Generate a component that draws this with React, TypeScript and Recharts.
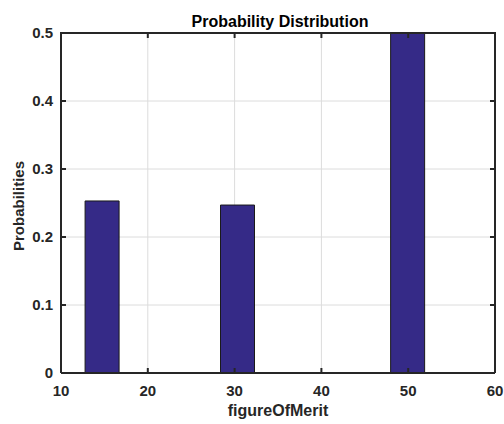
import React from "react";
import { BarChart, Bar, XAxis, YAxis, CartesianGrid } from "recharts";

const figureOfMerit = [14.7, 30.3, 49.9];
const probabilities = [0.253, 0.247, 0.5];
const xTicks = [10, 20, 30, 40, 50, 60];
const yTicks = [0, 0.1, 0.2, 0.3, 0.4, 0.5];
const xDomain = [10, 60];
const yDomain = [0, 0.5];
const titleText = "Probability Distribution";
const xLabel = "figureOfMerit";
const yLabel = "Probabilities";

const data = figureOfMerit.map((x, i) => ({ x, p: probabilities[i] }));

const FONT = "'Liberation Sans', Arial, Helvetica, sans-serif";
const AX = "#262626";
const AXW = 2;

const CW = 504;
const CH = 424;
const M_TOP = 33;
const M_RIGHT = 9;
const Y_W = 61;
const X_H = 51;
const PL = Y_W;
const PT = M_TOP;
const PR = CW - M_RIGHT;
const PB = CH - X_H;

const sx = (v: number) => PL + ((v - xDomain[0]) / (xDomain[1] - xDomain[0])) * (PR - PL);
const sy = (v: number) => PB - ((v - yDomain[0]) / (yDomain[1] - yDomain[0])) * (PB - PT);

export default function App() {
  return (
    <div style={{ position: "absolute", left: 0, top: 0, width: CW, height: CH, background: "#fff" }}>
      <BarChart
        width={CW}
        height={CH}
        data={data}
        margin={{ top: M_TOP, right: M_RIGHT, left: 0, bottom: 0 }}
      >
        <CartesianGrid stroke="#dcdcdc" strokeWidth={1} vertical horizontal />
        <XAxis
          dataKey="x"
          type="number"
          domain={xDomain}
          ticks={xTicks}
          allowDataOverflow
          height={X_H}
          axisLine={{ stroke: AX, strokeWidth: AXW }}
          tickLine={{ stroke: AX, strokeWidth: AXW }}
          tickSize={-5}
          tickMargin={17}
          tick={{ fill: "#262626", fontSize: 15, fontWeight: "bold", fontFamily: FONT }}
        />
        <YAxis
          type="number"
          domain={yDomain}
          ticks={yTicks}
          allowDataOverflow
          width={Y_W}
          axisLine={{ stroke: AX, strokeWidth: AXW }}
          tickLine={{ stroke: AX, strokeWidth: AXW }}
          tickSize={-5}
          tickMargin={13}
          tickFormatter={(v: number) => (v === 0 ? "0" : String(v))}
          tick={{ fill: "#262626", fontSize: 15, fontWeight: "bold", fontFamily: FONT }}
        />
        <Bar
          dataKey="p"
          fill="#352A87"
          stroke="#1a1a1a"
          strokeWidth={1}
          barSize={34}
          isAnimationActive={false}
        />
      </BarChart>
      <svg
        width={CW}
        height={CH}
        style={{ position: "absolute", left: 0, top: 0, pointerEvents: "none" }}
      >
        {xTicks.map((t) => (
          <line key={"tx" + t} x1={sx(t)} x2={sx(t)} y1={PT} y2={PT + 5} stroke={AX} strokeWidth={AXW} />
        ))}
        {yTicks.map((t) => (
          <line key={"ty" + t} x1={PR} x2={PR - 5} y1={sy(t)} y2={sy(t)} stroke={AX} strokeWidth={AXW} />
        ))}
        <line x1={PL - 1} x2={PR + 1} y1={PT} y2={PT} stroke={AX} strokeWidth={AXW} />
        <line x1={PR} x2={PR} y1={PT} y2={PB} stroke={AX} strokeWidth={AXW} />
        <text x={280} y={27} textAnchor="middle" fontFamily={FONT} fontWeight="bold" fontSize={16} fill="#000">
          {titleText}
        </text>
        <text x={278} y={416} textAnchor="middle" fontFamily={FONT} fontWeight="bold" fontSize={16} fill="#262626">
          {xLabel}
        </text>
        <text
          x={24}
          y={206}
          textAnchor="middle"
          fontFamily={FONT}
          fontWeight="bold"
          fontSize={15}
          fill="#262626"
          transform="rotate(-90 24 206)"
        >
          {yLabel}
        </text>
      </svg>
    </div>
  );
}
